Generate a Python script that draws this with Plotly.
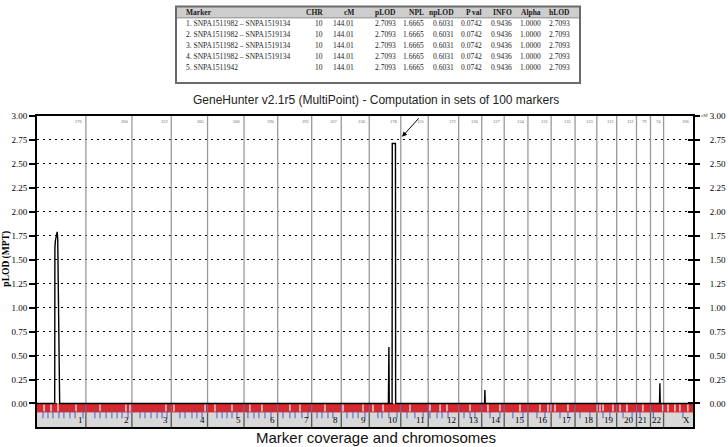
import plotly.graph_objects as go

# ---------------- data ----------------
chrom_names = ["1", "2", "3", "4", "5", "6", "7", "8", "9", "10", "11", "12",
               "13", "14", "15", "16", "17", "18", "19", "20", "21", "22", "X"]
chrom_len_cm = [276, 260, 222, 205, 206, 190, 192, 167, 158, 178, 155, 172,
                130, 127, 134, 131, 135, 123, 112, 112, 79, 74, 166]

# pLOD curve (points that differ from the flat zero baseline)
curve_chr = ["1", "1", "1", "1", "1", "1",
             "10", "10", "10", "10", "10", "10", "10",
             "14", "14", "14",
             "22", "22", "22"]
curve_cm = [100, 101, 104, 114, 117, 128,
            108, 111, 113, 129, 130, 148, 149,
            16, 18, 20,
            51, 53, 55]
curve_plod = [0, 1.62, 1.70, 1.79, 1.72, 0,
              0, 0.59, 0, 0, 2.71, 2.71, 0,
              0, 0.14, 0,
              0, 0.21, 0]

# marker-set boundaries (blue ticks) and marker gaps (light stripes), genome cM
set_boundaries_cm = [34, 62, 90, 124, 152, 186, 215, 260, 327, 356, 390, 423, 452, 480, 514,
                     582, 610, 644, 678, 706, 734, 807, 836, 875, 903, 932, 1016, 1045, 1073,
                     1101, 1129, 1191, 1225, 1253, 1287, 1321, 1389, 1428, 1457, 1496, 1530,
                     1581, 1609, 1643, 1671, 1750, 1784, 1813, 1852, 1925, 1948, 1987, 2033,
                     2089, 2134, 2180, 2219, 2259, 2287, 2321, 2411, 2445, 2473, 2558, 2614,
                     2687, 2744, 2823, 2868, 2953, 2998, 3066, 3122, 3196, 3235, 3309, 3360,
                     3405, 3480, 3647]
marker_gaps_cm = [40, 79, 119, 220, 356, 502, 525, 728, 773, 949, 1005, 1101, 1202, 1270,
                  1428, 1485, 1626, 1728, 1841, 1897, 1954, 2106, 2219, 2276, 2315, 2445,
                  2546, 2614, 2727, 2840, 2885, 2902, 2925, 2998, 3162, 3179, 3196, 3252,
                  3292, 3331, 3421, 3534, 3563, 3602, 3630, 3675]

y_ticks = [0, 0.25, 0.5, 0.75, 1.0, 1.25, 1.5, 1.75, 2.0, 2.25, 2.5, 2.75, 3.0]

# results table
tbl_header = ["Marker", "CHR", "cM", "pLOD", "NPL", "npLOD", "P val", "INFO", "Alpha", "hLOD"]
tbl_marker = ["1. SNPA1511982 \u2013 SNPA1519134", "2. SNPA1511982 \u2013 SNPA1519134",
              "3. SNPA1511982 \u2013 SNPA1519134", "4. SNPA1511982 \u2013 SNPA1519134",
              "5. SNPA1511942"]
tbl_chr = ["10"] * 5
tbl_cm = ["144.01"] * 5
tbl_plod = ["2.7093"] * 5
tbl_npl = ["1.6665"] * 5
tbl_nplod = ["0.6031"] * 5
tbl_pval = ["0.0742"] * 5
tbl_info = ["0.9436"] * 5
tbl_alpha = ["1.0000"] * 5
tbl_hlod = ["2.7093"] * 5

# ---------------- geometry helpers ----------------
W, H = 728, 447
def px(x):
    return x / W
def py(y):
    return 1 - y / H

offsets = []
acc = 0
for L in chrom_len_cm:
    offsets.append(acc)
    acc += L
total_cm = acc
off_of = dict(zip(chrom_names, offsets))
ends = [o + L for o, L in zip(offsets, chrom_len_cm)]

gx = [0] + [off_of[c] + p for c, p in zip(curve_chr, curve_cm)] + [total_cm]
gy = [0] + curve_plod + [0]

Y_BOT = -0.2474
Y_RED = -0.093

fig = go.Figure()

fig.add_trace(go.Scatter(x=gx, y=gy, mode="lines", line=dict(color="black", width=1.4),
                         hoverinfo="skip", showlegend=False))
fig.add_trace(go.Scatter(x=[0], y=[0], yaxis="y2", mode="markers", marker=dict(opacity=0),
                         hoverinfo="skip", showlegend=False))
fig.add_trace(go.Scatter(x=[0], y=[0], yaxis="y3", mode="markers", marker=dict(opacity=0),
                         hoverinfo="skip", showlegend=False))

shapes = []
# gray chromosome band
shapes.append(dict(type="rect", xref="x", yref="y", x0=0, x1=total_cm, y0=Y_BOT, y1=Y_RED,
                   fillcolor="#d8d8d8", line=dict(width=0), layer="below"))
# red marker band
shapes.append(dict(type="rect", xref="x", yref="y", x0=0, x1=total_cm, y0=Y_RED, y1=0,
                   fillcolor="#d42a2e", line=dict(width=0), layer="between"))
for g in marker_gaps_cm:
    shapes.append(dict(type="line", xref="x", yref="y", x0=g, x1=g, y0=Y_RED + 0.01, y1=-0.008,
                       line=dict(color="rgba(255,235,235,0.85)", width=1.5), layer="between"))
for b in set_boundaries_cm:
    shapes.append(dict(type="line", xref="x", yref="y", x0=b, x1=b, y0=-0.155, y1=Y_RED + 0.02,
                       line=dict(color="#4a5cc4", width=1), layer="between"))
# chromosome dividers
for e in ends[:-1]:
    shapes.append(dict(type="line", xref="x", yref="y", x0=e, x1=e, y0=0, y1=3,
                       line=dict(color="#9a9a9a", width=1.3), layer="between"))
    shapes.append(dict(type="line", xref="x", yref="y", x0=e, x1=e, y0=Y_BOT, y1=Y_RED,
                       line=dict(color="#555555", width=1.3), layer="between"))
    shapes.append(dict(type="line", xref="x", yref="y", x0=e, x1=e, y0=Y_RED, y1=0,
                       line=dict(color="#6b6bb0", width=1.0), layer="between"))

# ---------------- table (drawn from the table lists) ----------------
TBL_L, TBL_R, TBL_T, TBL_B = 176, 580, 1.5, 79
shapes.append(dict(type="rect", xref="paper", yref="paper", x0=px(TBL_L), x1=px(TBL_R),
                   y0=py(13), y1=py(TBL_T), fillcolor="#cdcdcd", line=dict(width=0)))
shapes.append(dict(type="line", xref="paper", yref="paper", x0=px(TBL_L), x1=px(TBL_R),
                   y0=py(13), y1=py(13), line=dict(color="#8a8a8a", width=1)))
shapes.append(dict(type="rect", xref="paper", yref="paper", x0=px(TBL_L), x1=px(TBL_R),
                   y0=py(TBL_B), y1=py(TBL_T), line=dict(color="#6a6a6a", width=2),
                   fillcolor="rgba(0,0,0,0)"))

col_x = [184, 325, 356, 398, 426, 456, 484, 514, 543, 572]
col_anchor = ["left"] + ["right"] * 9
row_y = [18.5, 29.8, 41.1, 52.4, 63.7]
columns = [tbl_marker, tbl_chr, tbl_cm, tbl_plod, tbl_npl, tbl_nplod,
           tbl_pval, tbl_info, tbl_alpha, tbl_hlod]

annotations = []
tfont = dict(family="Liberation Serif", size=7.5, color="#1a1a1a")
for h, cx, anc in zip(tbl_header, col_x, col_anchor):
    annotations.append(dict(xref="paper", yref="paper", x=px(cx), y=py(7.3), text="<b>%s</b>" % h,
                            showarrow=False, xanchor=anc, yanchor="middle", font=tfont))
for col, cx, anc in zip(columns, col_x, col_anchor):
    for v, ry in zip(col, row_y):
        annotations.append(dict(xref="paper", yref="paper", x=px(cx), y=py(ry), text=v,
                                showarrow=False, xanchor=anc, yanchor="middle", font=tfont))

annotations.append(dict(xref="paper", yref="paper", x=px(376), y=py(96.5),
                        text="GeneHunter v2.1r5 (MultiPoint) - Computation in sets of 100 markers",
                        showarrow=False, xanchor="center", yanchor="middle",
                        font=dict(family="Liberation Sans", size=12, color="#222")))
annotations.append(dict(xref="paper", yref="paper", x=px(376), y=py(437),
                        text="Marker coverage and chromosomes", showarrow=False,
                        xanchor="center", yanchor="middle",
                        font=dict(family="Liberation Sans", size=15, color="#111")))
annotations.append(dict(xref="paper", yref="paper", x=px(6.5), y=py(257), text="<b>pLOD (MPT)</b>",
                        textangle=-90, showarrow=False, xanchor="center", yanchor="middle",
                        font=dict(family="Liberation Serif", size=9.5, color="black")))
annotations.append(dict(xref="paper", yref="paper", x=px(699), y=py(112), text="cM",
                        showarrow=False, xanchor="left", yanchor="middle",
                        font=dict(family="Liberation Serif", size=5, color="#444")))
for e, L in zip(ends, chrom_len_cm):
    annotations.append(dict(xref="x", yref="y", x=e, y=3.0, text=str(L), showarrow=False,
                            xanchor="right", yanchor="top", xshift=-1, yshift=-1,
                            font=dict(family="Liberation Serif", size=4.5, color="#666")))
for e, n in zip(ends, chrom_names):
    annotations.append(dict(xref="x", yref="y", x=e, y=-0.175, text=n, showarrow=False,
                            xanchor="right", yanchor="middle", xshift=-1,
                            font=dict(family="Liberation Serif", size=9, color="black")))
# arrow pointing at the maximum
annotations.append(dict(xref="x", yref="y", x=off_of["10"] + 185, y=2.78, ax=18, ay=-20,
                        text="", showarrow=True, arrowhead=2, arrowsize=1, arrowwidth=1,
                        arrowcolor="black"))

tickfont = dict(family="Liberation Serif", size=9, color="black")
fig.update_layout(
    width=W, height=H, margin=dict(l=0, r=0, t=0, b=0),
    paper_bgcolor="white", plot_bgcolor="white", showlegend=False,
    xaxis=dict(domain=[px(37), px(693)], range=[0, total_cm], showline=True, mirror=True,
               linecolor="black", linewidth=2, showgrid=False, zeroline=False,
               showticklabels=False, ticks=""),
    yaxis=dict(domain=[py(427), py(112)], range=[Y_BOT, 3.0], tickvals=y_ticks,
               ticktext=["%.2f" % v for v in y_ticks], ticks="outside", ticklen=6,
               tickwidth=1.5, tickcolor="black", showline=True, linewidth=2, linecolor="black",
               showgrid=True, gridcolor="black", griddash="2px,4px", gridwidth=1,
               zeroline=False, tickfont=tickfont),
    yaxis2=dict(overlaying="y", side="right", anchor="x", range=[Y_BOT, 3.0], tickvals=y_ticks,
                ticktext=["%.2f" % v for v in y_ticks], ticks="outside", ticklen=5,
                tickwidth=1.5, tickcolor="black", showline=True, linewidth=2, linecolor="black",
                showgrid=False, zeroline=False, tickfont=tickfont, ticklabelstandoff=8),
    yaxis3=dict(overlaying="y", side="right", anchor="x", range=[Y_BOT, 3.0], tickvals=y_ticks,
                ticks="inside", ticklen=5, tickwidth=1.5, tickcolor="black", showline=False,
                showgrid=False, zeroline=False, showticklabels=False),
    shapes=shapes, annotations=annotations,
)

fig.write_html("out.html", config={"displayModeBar": False},
               post_script="document.body.style.margin='0';")
